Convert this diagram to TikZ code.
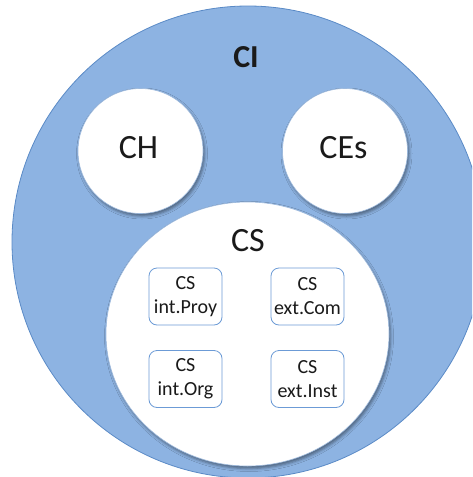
\documentclass[tikz,border=0pt]{standalone}
\usepackage{fontspec}
\setmainfont{Carlito}
\usetikzlibrary{shadows.blur,shapes.geometric}
\definecolor{cifill}{HTML}{8DB3E2}
\definecolor{ciline}{HTML}{5A8AC6}
\definecolor{boxline}{HTML}{6C9BD6}
\definecolor{txt}{HTML}{1A1A1A}
\tikzset{
  bigc/.style={circle, fill=cifill, draw=ciline, line width=0.8pt, minimum size=472pt, inner sep=0pt},
  subc/.style={fill=white, draw=ciline!60, line width=0.6pt, inner sep=0pt,
    blur shadow={shadow xshift=1.5pt, shadow yshift=-2.5pt, shadow blur radius=3pt, shadow opacity=45}},
  lbl/.style={text=txt, font=\fontsize{34}{38}\selectfont, inner sep=0pt},
  sbox/.style={draw=boxline, line width=0.8pt, rounded corners=8pt, fill=white,
    minimum width=73pt, minimum height=57pt, inner sep=0pt, align=center,
    text=txt, font=\fontsize{20}{24}\selectfont}
}
\begin{document}
\begin{tikzpicture}[x=1pt,y=-1pt]
\useasboundingbox (0,0) rectangle (472,477);
\begin{scope}
\clip (0,0) rectangle (472,477);
\node[bigc] (ci) at (248,242) {};
\node[subc, circle, minimum size=125pt] (ch) at (140.5,151) {};
\node[subc, circle, minimum size=125pt] (ces) at (345,151) {};
\node[subc, ellipse, minimum width=283pt, minimum height=264pt] (cs) at (247.5,334) {};
\end{scope}
\node[lbl, font=\fontsize{32}{36}\bfseries] (cit) at (246,57.5) {CI};
\node[lbl] (cht) at (138.5,148) {CH};
\node[lbl] (cest) at (343.5,148) {CEs};
\node[lbl] (cst) at (248,241) {CS};
\node[sbox] (b1) at (185.5,296.5) {CS\\int.Proy};
\node[sbox] (b2) at (307.5,296.5) {CS\\ext.Com};
\node[sbox] (b3) at (185.5,379) {CS\\int.Org};
\node[sbox] (b4) at (307.5,379) {CS\\ext.Inst};
\end{tikzpicture}
\end{document}
